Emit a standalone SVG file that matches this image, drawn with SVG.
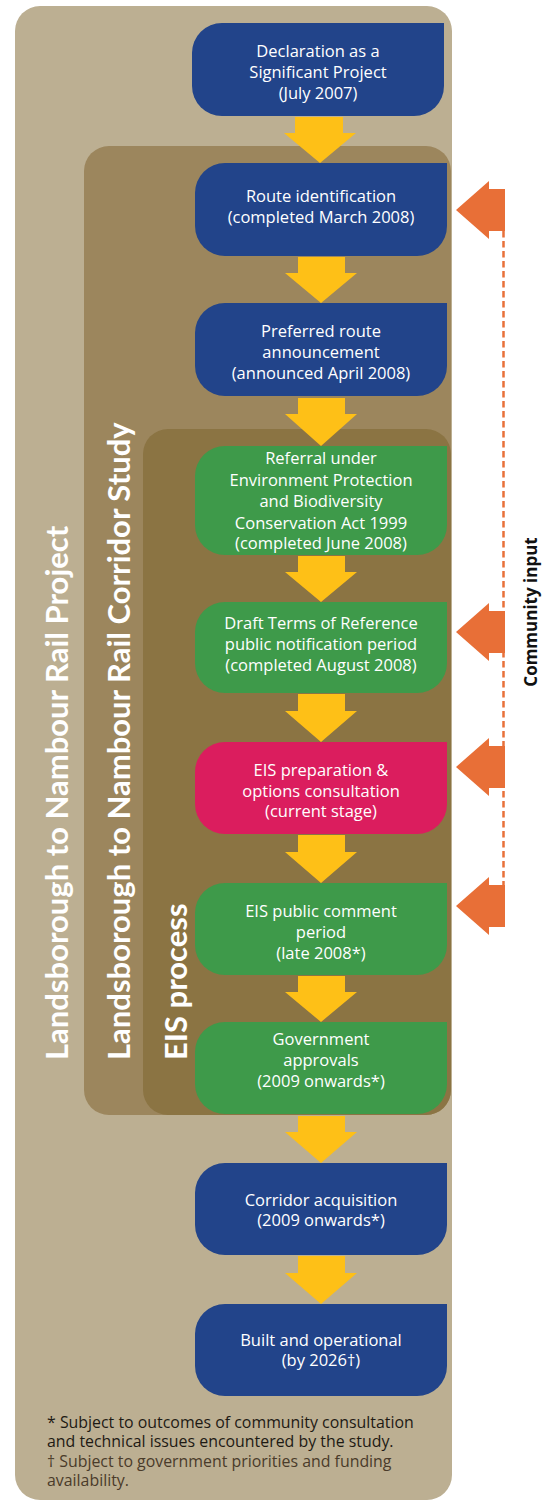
<svg xmlns="http://www.w3.org/2000/svg" width="544" height="1500" viewBox="0 0 544 1500">
<defs>
<style>
.bt{font-family:"Open Sans","Noto Sans",sans-serif;font-size:16.5px;fill:#ffffff;text-anchor:middle}
.lbl{font-family:Lato,"Open Sans",sans-serif;font-weight:700;font-size:31px;fill:#ffffff}
.blue{fill:#22448A}
.green{fill:#3E9A4A}
.pink{fill:#DB1D5E}
.ya{fill:#FEC017}
.oa{fill:#E86F37}
.fn{font-family:"Open Sans","Noto Sans",sans-serif;font-size:15.9px}
</style>
</defs>
<rect width="544" height="1500" fill="#ffffff"/>
<g id="panel-project"><rect x="15" y="6" width="437" height="1494" rx="25" fill="#BCAF92"/>
<text class="lbl" transform="translate(68,1060) rotate(-90)">Landsborough to Nambour Rail Project</text></g>
<g id="panel-corridor"><rect x="84" y="146" width="367" height="969" rx="25" fill="#9C865D"/>
<text class="lbl" transform="translate(130,1060) rotate(-90)">Landsborough to Nambour Rail Corridor Study</text></g>
<g id="panel-eis"><rect x="143" y="429" width="308" height="686" rx="25" fill="#8B7443"/>
<text class="lbl" transform="translate(187,1060) rotate(-90)">EIS process</text></g>

<g id="connectors">
<polygon class="ya" points="295,117 343,117 343,133 356,133 320,163 284,133 295,133 295,117"/>
<polygon class="ya" points="298,257 345,257 345,273 357,273 321,303 285,273 298,273"/>
<polygon class="ya" points="298,398 345,398 345,414 357,414 321,446 285,414 298,414"/>
<polygon class="ya" points="298,556 345,556 345,572 357,572 321,602 285,572 298,572"/>
<polygon class="ya" points="298,694 345,694 345,711 357,711 321,742 285,711 298,711"/>
<polygon class="ya" points="298,835 345,835 345,852 357,852 321,883 285,852 298,852"/>
<polygon class="ya" points="298,976 345,976 345,992 357,992 321,1022 285,992 298,992"/>
<polygon class="ya" points="298,1116 345,1116 345,1132 357,1132 321,1163 285,1132 298,1132"/>
<polygon class="ya" points="298,1256 345,1256 345,1273 357,1273 321,1304 285,1273 298,1273"/>
<line x1="503.5" y1="231" x2="503.5" y2="886" stroke="#E8703A" stroke-width="2.5" stroke-dasharray="6.5 3.5"/>
<polygon class="oa" points="456,210 489,181 489,189 505,189 505,231 489,231 489,239"/>
<polygon class="oa" points="456,632 489,603 489,611 505,611 505,653 489,653 489,661"/>
<polygon class="oa" points="456,767 489,738 489,746 505,746 505,788 489,788 489,796"/>
<polygon class="oa" points="456,906 489,877 489,885 505,885 505,927 489,927 489,935"/>
<text transform="translate(537,612) rotate(-90)" style="font-family:'Open Sans','Noto Sans',sans-serif;font-weight:700;font-size:17px;fill:#111111;text-anchor:middle">Community input</text>
</g>

<g id="n1"><path class="blue" d="M222,23 H444 V86 A30,30 0 0 1 414,116 H222 A30,30 0 0 1 192,86 V53 A30,30 0 0 1 222,23 Z"/>
<text class="bt" x="318" y="57">Declaration as a</text><text class="bt" x="318" y="78">Significant Project</text><text class="bt" x="318" y="99">(July 2007)</text></g>

<g id="n2"><path class="blue" d="M225,163 H447 V226 A30,30 0 0 1 417,256 H225 A30,30 0 0 1 195,226 V193 A30,30 0 0 1 225,163 Z"/>
<text class="bt" x="321" y="202">Route identification</text><text class="bt" x="321" y="223">(completed March 2008)</text></g>

<g id="n3"><path class="blue" d="M225,303 H447 V366 A30,30 0 0 1 417,396 H225 A30,30 0 0 1 195,366 V333 A30,30 0 0 1 225,303 Z"/>
<text class="bt" x="321" y="337">Preferred route</text><text class="bt" x="321" y="358">announcement</text><text class="bt" x="321" y="379">(announced April 2008)</text></g>

<g id="n4"><path class="green" d="M225,446 H447 V525 A30,30 0 0 1 417,555 H225 A30,30 0 0 1 195,525 V476 A30,30 0 0 1 225,446 Z"/>
<text class="bt" x="321" y="464">Referral under</text><text class="bt" x="321" y="485.5">Environment Protection</text><text class="bt" x="321" y="507">and Biodiversity</text><text class="bt" x="321" y="528.5">Conservation Act 1999</text><text class="bt" x="321" y="549">(completed June 2008)</text></g>

<g id="n5"><path class="green" d="M225,602 H447 V663 A30,30 0 0 1 417,693 H225 A30,30 0 0 1 195,663 V632 A30,30 0 0 1 225,602 Z"/>
<text class="bt" x="321" y="628.5">Draft Terms of Reference</text><text class="bt" x="321" y="649.5">public notification period</text><text class="bt" x="321" y="670.5">(completed August 2008)</text></g>

<g id="n6"><path class="pink" d="M225,742 H447 V804 A30,30 0 0 1 417,834 H225 A30,30 0 0 1 195,804 V772 A30,30 0 0 1 225,742 Z"/>
<text class="bt" x="321" y="776">EIS preparation &amp;</text><text class="bt" x="321" y="796.5">options consultation</text><text class="bt" x="321" y="817">(current stage)</text></g>

<g id="n7"><path class="green" d="M225,883 H447 V945 A30,30 0 0 1 417,975 H225 A30,30 0 0 1 195,945 V913 A30,30 0 0 1 225,883 Z"/>
<text class="bt" x="321" y="917">EIS public comment</text><text class="bt" x="321" y="938">period</text><text class="bt" x="321" y="959">(late 2008*)</text></g>

<g id="n8"><path class="green" d="M225,1022 H447 V1084 A30,30 0 0 1 417,1114 H225 A30,30 0 0 1 195,1084 V1052 A30,30 0 0 1 225,1022 Z"/>
<text class="bt" x="321" y="1045">Government</text><text class="bt" x="321" y="1066">approvals</text><text class="bt" x="321" y="1087">(2009 onwards*)</text></g>

<g id="n9"><path class="blue" d="M225,1163 H447 V1225 A30,30 0 0 1 417,1255 H225 A30,30 0 0 1 195,1225 V1193 A30,30 0 0 1 225,1163 Z"/>
<text class="bt" x="321" y="1206">Corridor acquisition</text><text class="bt" x="321" y="1226">(2009 onwards*)</text></g>

<g id="n10"><path class="blue" d="M225,1304 H447 V1366 A30,30 0 0 1 417,1396 H225 A30,30 0 0 1 195,1366 V1334 A30,30 0 0 1 225,1304 Z"/>
<text class="bt" x="321" y="1346">Built and operational</text><text class="bt" x="321" y="1366">(by 2026†)</text></g>

<g id="footnotes">
<text class="fn" x="47" y="1428" fill="#1E1A14">* Subject to outcomes of community consultation</text>
<text class="fn" x="47" y="1447" fill="#1E1A14">and technical issues encountered by the study.</text>
<text class="fn" x="47" y="1467" fill="#4A3B2A">† Subject to government priorities and funding</text>
<text class="fn" x="47" y="1486" fill="#4A3B2A">availability.</text>
</g>
</svg>
